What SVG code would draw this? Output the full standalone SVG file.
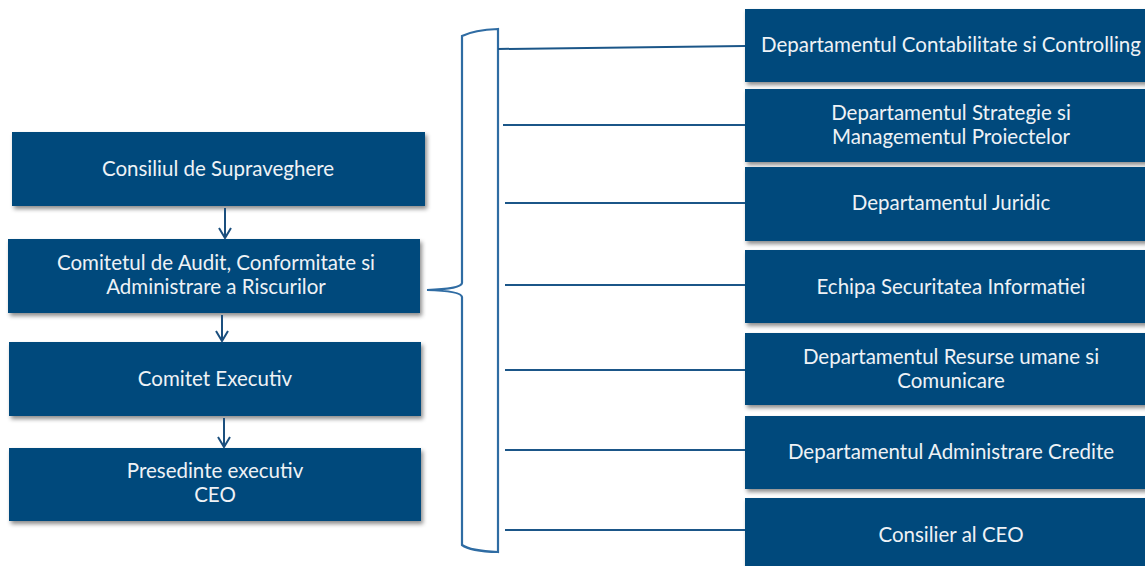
<svg xmlns="http://www.w3.org/2000/svg" width="1145" height="566" viewBox="0 0 1145 566">
<defs>
<filter id="sh" x="-5%" y="-20%" width="115%" height="150%">
<feDropShadow dx="2" dy="3" stdDeviation="2" flood-color="#000" flood-opacity="0.45"/>
</filter>
<marker id="ah" markerWidth="14" markerHeight="14" refX="12" refY="7" orient="auto" markerUnits="userSpaceOnUse" viewBox="0 0 14 14">
<path d="M2 1 L12 7 L2 13" fill="none" stroke="#1B4F7E" stroke-width="2"/>
</marker>
</defs>
<style>
.box{fill:#004A7B;filter:url(#sh)}
.t{font-family:Lato,"Open Sans",sans-serif;font-size:20.5px;fill:#EEF2F6;text-anchor:middle}
.c{stroke:#1B5688;stroke-width:2;fill:none}
.a{stroke:#1B4F7E;stroke-width:2;fill:none;marker-end:url(#ah)}
.br{stroke:#2F6CA3;stroke-width:2.2;fill:#fff}
</style>
<g id="n1"><rect class="box" x="12" y="132" width="413" height="74"/><text class="t" x="218" y="176">Consiliul de Supraveghere</text></g>
<g id="n2"><rect class="box" x="8" y="239" width="412" height="74"/><text class="t" x="216" y="270">Comitetul de Audit, Conformitate si</text><text class="t" x="216" y="294">Administrare a Riscurilor</text></g>
<g id="n3"><rect class="box" x="9" y="342" width="412" height="74"/><text class="t" x="215" y="386">Comitet Executiv</text></g>
<g id="n4"><rect class="box" x="9" y="448" width="412" height="73"/><text class="t" x="215" y="478">Presedinte executiv</text><text class="t" x="215" y="502">CEO</text></g>
<g id="r1"><rect class="box" x="745" y="9" width="412" height="73"/><text class="t" x="951" y="52">Departamentul Contabilitate si Controlling</text></g>
<g id="r2"><rect class="box" x="745" y="89" width="412" height="73"/><text class="t" x="951" y="120">Departamentul Strategie si</text><text class="t" x="951" y="144">Managementul Proiectelor</text></g>
<g id="r3"><rect class="box" x="745" y="167" width="412" height="74"/><text class="t" x="951" y="210">Departamentul Juridic</text></g>
<g id="r4"><rect class="box" x="745" y="250" width="412" height="73"/><text class="t" x="951" y="294">Echipa Securitatea Informatiei</text></g>
<g id="r5"><rect class="box" x="745" y="333" width="412" height="72"/><text class="t" x="951" y="364">Departamentul Resurse umane si</text><text class="t" x="951" y="388">Comunicare</text></g>
<g id="r6"><rect class="box" x="745" y="416" width="412" height="73"/><text class="t" x="951" y="459">Departamentul Administrare Credite</text></g>
<g id="r7"><rect class="box" x="745" y="498" width="412" height="80"/><text class="t" x="951" y="542">Consilier al CEO</text></g>
<g id="connectors">
<line class="a" x1="225" y1="208" x2="225" y2="238"/>
<line class="a" x1="222" y1="315" x2="222" y2="341"/>
<line class="a" x1="224" y1="418" x2="224" y2="447"/>
<path class="br" d="M498 552 L498 29 Q474 30 462 36 L462 283 Q461 289 427 290 Q461 291 462 297 L462 545 Q470 551 498 552 Z"/>
<path class="c" d="M498 49 L745 46"/>
<line class="c" x1="503" y1="125" x2="745" y2="125"/>
<line class="c" x1="505" y1="203" x2="745" y2="203"/>
<line class="c" x1="505" y1="285" x2="745" y2="285"/>
<line class="c" x1="505" y1="370" x2="745" y2="370"/>
<line class="c" x1="505" y1="450" x2="745" y2="450"/>
<line class="c" x1="505" y1="530" x2="745" y2="530"/>
</g>
</svg>
